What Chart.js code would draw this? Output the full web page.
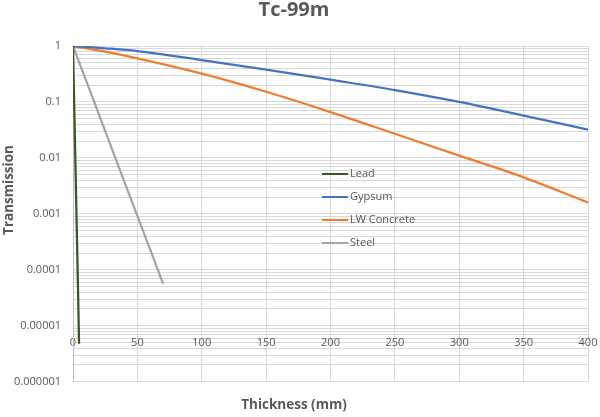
<!DOCTYPE html>
<html>
<head>
<meta charset="utf-8">
<script src="https://cdn.jsdelivr.net/npm/chart.js@4.4.1/dist/chart.umd.min.js"></script>
<style>
    html, body { margin: 0; padding: 0; background: #fff; }
    #wrap { width: 600px; height: 417px; }
</style>
</head>
<body>
<div id="wrap"><canvas id="chart"></canvas></div>
<script>
// values
const leadThickness = [0, 1, 2, 3, 4, 4.7];
const leadValues = [1, 0.075, 0.0058, 0.00044, 0.000034, 0.0000048];

const gypsumThickness = [0, 25, 50, 100, 150, 200, 250, 300, 350, 400];
const gypsumValues = [1, 0.91, 0.81, 0.56, 0.38, 0.25, 0.163, 0.1, 0.057, 0.032];

const concreteThickness = [0, 25, 50, 100, 150, 200, 250, 300, 350, 400];
const concreteValues = [1, 0.79, 0.6, 0.32, 0.152, 0.066, 0.027, 0.011, 0.0045, 0.0016];

const steelThickness = [0, 10, 20, 30, 40, 50, 60, 70];
const steelValues = [1, 0.247, 0.061, 0.015, 0.0037, 0.00092, 0.00023, 0.000056];

const seriesNames = ['Lead', 'Gypsum', 'LW Concrete', 'Steel'];
const seriesColors = ['#375623', '#4472C4', '#ED7D31', '#A5A5A5'];

const yTickValues = [1, 0.1, 0.01, 0.001, 0.0001, 0.00001, 0.000001];
const yTickLabels = ['1', '0.1', '0.01', '0.001', '0.0001', '0.00001', '0.000001'];

const textColor = '#595959';
const gridColor = '#d9d9d9';
const fontFamily = '"Open Sans", sans-serif';

function toPoints(xs, ys) {
    return xs.map((x, i) => ({ x: x, y: ys[i] }));
}

const allSeries = [
    toPoints(leadThickness, leadValues),
    toPoints(gypsumThickness, gypsumValues),
    toPoints(concreteThickness, concreteValues),
    toPoints(steelThickness, steelValues)
];

// legend drawn inside the plot, like the Excel original
const insideLegend = {
    id: 'insideLegend',
    afterDraw(chart) {
        const ctx = chart.ctx;
        ctx.save();
        ctx.font = '11px ' + fontFamily;
        ctx.textBaseline = 'middle';
        chart.data.datasets.forEach((ds, i) => {
            const y = 174 + i * 23;
            ctx.strokeStyle = ds.borderColor;
            ctx.lineWidth = 2;
            ctx.beginPath();
            ctx.moveTo(322, y);
            ctx.lineTo(348, y);
            ctx.stroke();
            ctx.fillStyle = textColor;
            ctx.fillText(ds.label, 350, y);
        });
        ctx.restore();
    }
};

// vertical axis title, Excel puts it a bit above the middle
const yAxisTitle = {
    id: 'yAxisTitle',
    afterDraw(chart) {
        const ctx = chart.ctx;
        ctx.save();
        ctx.translate(9, 190);
        ctx.rotate(-Math.PI / 2);
        ctx.font = 'bold 13.5px ' + fontFamily;
        ctx.fillStyle = textColor;
        ctx.textAlign = 'center';
        ctx.textBaseline = 'middle';
        ctx.fillText('Transmission', 0, 0);
        ctx.restore();
    }
};

const datasets = allSeries.map((pts, i) => ({
    label: seriesNames[i],
    data: pts,
    borderColor: seriesColors[i],
    backgroundColor: seriesColors[i],
    borderWidth: 2.25,
    pointRadius: 0,
    cubicInterpolationMode: 'monotone',
    fill: false
}));

new Chart(document.getElementById('chart'), {
    type: 'line',
    data: { datasets: datasets },
    options: {
        responsive: true,
        maintainAspectRatio: false,
        animation: false,
        layout: { padding: { left: 0, right: 12, top: 0, bottom: 0 } },
        plugins: {
            legend: { display: false },
            tooltip: { enabled: false },
            title: {
                display: true,
                text: 'Tc-99m',
                color: textColor,
                font: { family: fontFamily, size: 20, weight: 'bold', lineHeight: 1.05 },
                padding: { top: 0, bottom: 25 }
            },
            subtitle: {
                display: true,
                position: 'bottom',
                text: 'Thickness (mm)',
                color: textColor,
                font: { family: fontFamily, size: 13.5, weight: 'bold' },
                padding: { top: 15, bottom: 4 }
            }
        },
        scales: {
            x: {
                type: 'linear',
                position: { y: 0.00001 },
                min: 0,
                max: 400,
                afterFit(scale) {
                    scale.paddingLeft = 0;
                    scale.paddingRight = 0;
                },
                ticks: {
                    stepSize: 50,
                    color: textColor,
                    font: { family: fontFamily, size: 11 },
                    padding: 10,
                    maxRotation: 0
                },
                grid: { color: gridColor, drawTicks: false },
                border: { display: false }
            },
            y: {
                type: 'logarithmic',
                min: 0.000001,
                max: 1,
                afterBuildTicks(scale) {
                    const ticks = [];
                    for (let e = -6; e < 0; e++) {
                        for (let m = 1; m <= 9; m++) {
                            ticks.push({ value: m * Math.pow(10, e) });
                        }
                    }
                    ticks.push({ value: 1 });
                    scale.ticks = ticks;
                },
                afterFit(scale) {
                    scale.width = 73;
                },
                ticks: {
                    autoSkip: false,
                    color: textColor,
                    font: { family: fontFamily, size: 11 },
                    padding: 12,
                    callback(value) {
                        const idx = yTickValues.findIndex(v => Math.abs(value - v) / v < 1e-6);
                        return idx >= 0 ? yTickLabels[idx] : '';
                    }
                },
                grid: { color: gridColor, drawTicks: false },
                border: { color: '#bfbfbf' }
            }
        }
    },
    plugins: [insideLegend, yAxisTitle]
});
</script>
</body>
</html>
